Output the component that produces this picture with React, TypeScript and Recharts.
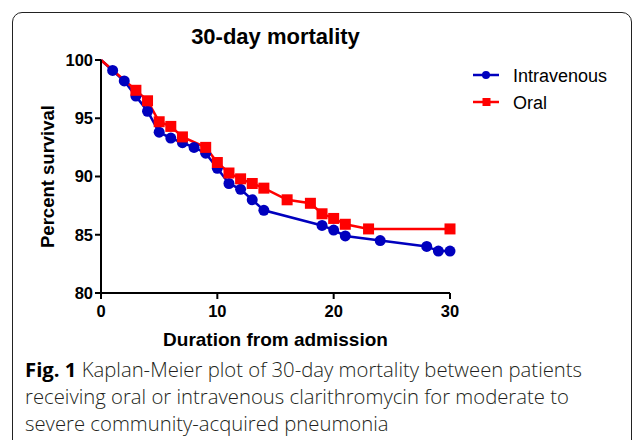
import React from "react";
import { LineChart, Line, XAxis, YAxis, Label } from "recharts";

const ivDays = [0, 1, 2, 3, 4, 5, 6, 7, 8, 9, 10, 11, 12, 13, 14, 19, 20, 21, 24, 28, 29, 30];
const ivSurvival = [100, 99.1, 98.2, 96.9, 95.6, 93.8, 93.3, 92.9, 92.5, 92.0, 90.7, 89.4, 88.9, 88.0, 87.1, 85.8, 85.4, 84.9, 84.5, 84.0, 83.6, 83.6];
const oralDays = [0, 3, 4, 5, 6, 7, 9, 10, 11, 12, 13, 14, 16, 18, 19, 20, 21, 23, 30];
const oralSurvival = [100, 97.4, 96.5, 94.7, 94.3, 93.4, 92.5, 91.2, 90.3, 89.8, 89.4, 89.0, 88.0, 87.7, 86.8, 86.4, 85.9, 85.5, 85.5];
const xTicks = [0, 10, 20, 30];
const yTicks = [80, 85, 90, 95, 100];

const BLUE = "#0000BE";
const RED = "#FF0000";
const FONT = "'Liberation Sans', Arial, sans-serif";

const ivData = ivDays.map((day, i) => ({ day, value: ivSurvival[i] }));
const oralData = oralDays.map((day, i) => ({ day, value: oralSurvival[i] }));

const legendItems = [
  { name: "Intravenous", color: BLUE, square: false },
  { name: "Oral", color: RED, square: true },
];

function CircleDot(props: any) {
  const { cx, cy, payload } = props;
  if (payload.day === 0) return <g />;
  return <circle cx={cx} cy={cy} r={5.5} fill={BLUE} stroke="none" />;
}

function SquareDot(props: any) {
  const { cx, cy, payload } = props;
  if (payload.day === 0) return <g />;
  return <rect x={cx - 5.5} y={cy - 5.5} width={11} height={11} fill={RED} stroke="none" />;
}

function ChartLegend() {
  return (
    <svg width={160} height={60} style={{ position: "absolute", left: 470, top: 63 }}>
      {legendItems.map((it, i) => {
        const y = 12 + i * 27;
        return (
          <g key={it.name}>
            <line x1={3} x2={29} y1={y} y2={y} stroke={it.color} strokeWidth={2.5} />
            {it.square ? (
              <rect x={12.5} y={y - 4} width={8} height={8} fill={it.color} />
            ) : (
              <circle cx={16} cy={y} r={4} fill={it.color} />
            )}
            <text x={43} y={y + 6.5} fontSize={18} fontFamily={FONT} fill="#000">
              {it.name}
            </text>
          </g>
        );
      })}
    </svg>
  );
}

const tickStyle = { fill: "#000", fontSize: 16.5, fontWeight: 700, fontFamily: FONT };

export default function App() {
  return (
    <div style={{ position: "absolute", left: 0, top: 0, width: 634, height: 440, background: "#fff", overflow: "hidden" }}>
      <div
        style={{
          position: "absolute",
          left: 12,
          top: 12,
          width: 618,
          height: 460,
          border: "1.5px solid #222",
          borderRadius: 10,
        }}
      />
      <div
        style={{
          position: "absolute",
          left: 101,
          width: 349,
          top: 24,
          textAlign: "center",
          fontFamily: FONT,
          fontWeight: 700,
          fontSize: 22,
        }}
      >
        30-day mortality
      </div>
      <div style={{ position: "absolute", left: 0, top: 0 }}>
        <LineChart width={634} height={440} data={ivData} margin={{ top: 60, right: 184, bottom: 87, left: 0 }}>
          <XAxis
            type="number"
            dataKey="day"
            domain={[0, 30]}
            ticks={xTicks}
            tick={tickStyle}
            axisLine={{ stroke: "#000", strokeWidth: 2 }}
            tickLine={{ stroke: "#000", strokeWidth: 2 }}
            tickSize={6}
            tickMargin={6}
            height={60}
          >
            <Label
              value="Duration from admission"
              position="insideBottom"
              offset={7}
              style={{ fill: "#000", fontSize: 19, fontWeight: 700, fontFamily: FONT }}
            />
          </XAxis>
          <YAxis
            type="number"
            dataKey="value"
            domain={[80, 100]}
            ticks={yTicks}
            tick={tickStyle}
            axisLine={{ stroke: "#000", strokeWidth: 2 }}
            tickLine={{ stroke: "#000", strokeWidth: 2 }}
            tickSize={6}
            tickMargin={2}
            width={101}
          >
            <Label
              value="Percent survival"
              angle={-90}
              position="insideLeft"
              offset={47}
              style={{ textAnchor: "middle", fill: "#000", fontSize: 18.5, fontWeight: 700, fontFamily: FONT }}
            />
          </YAxis>
          <Line
            data={ivData}
            dataKey="value"
            name="Intravenous"
            stroke={BLUE}
            strokeWidth={2.5}
            dot={<CircleDot />}
            activeDot={false}
            isAnimationActive={false}
          />
          <Line
            data={oralData}
            dataKey="value"
            name="Oral"
            stroke={RED}
            strokeWidth={2.5}
            dot={<SquareDot />}
            activeDot={false}
            isAnimationActive={false}
          />
        </LineChart>
      </div>
      <ChartLegend />
      <div
        style={{
          position: "absolute",
          left: 25,
          top: 356,
          width: 610,
          fontFamily: "'Open Sans', sans-serif",
          fontSize: 20.3,
          fontWeight: 300,
          lineHeight: "27px",
          color: "#231f20",
          whiteSpace: "nowrap",
        }}
      >
        <b style={{ color: "#000", fontWeight: 700 }}>Fig. 1</b> Kaplan-Meier plot of 30-day mortality between patients
        <br />
        receiving oral or intravenous clarithromycin for moderate to
        <br />
        severe community-acquired pneumonia
      </div>
    </div>
  );
}
